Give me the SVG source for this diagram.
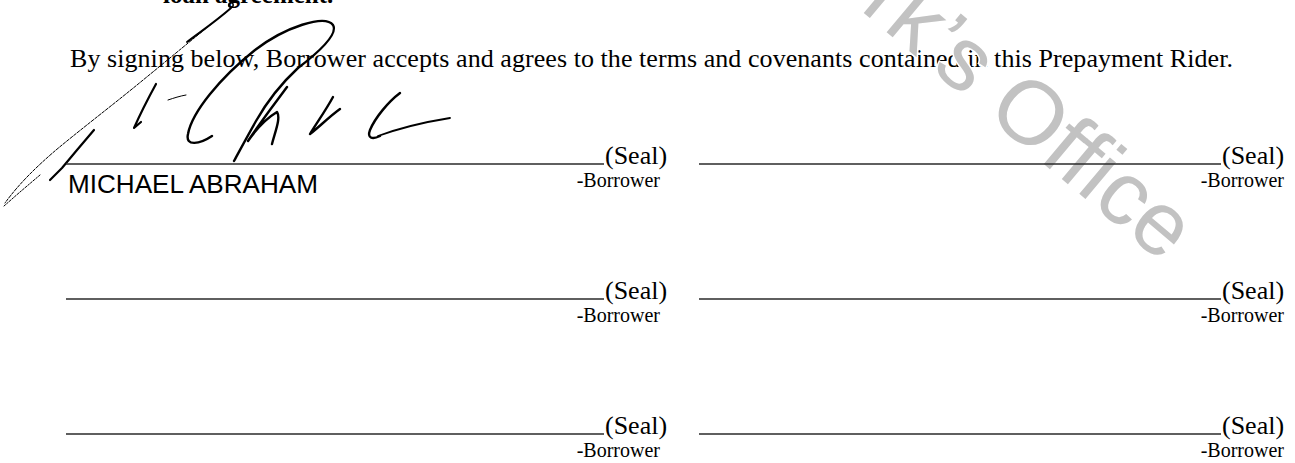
<svg xmlns="http://www.w3.org/2000/svg" width="1295" height="463" viewBox="0 0 1295 463">
<style>
.serif{font-family:"Liberation Serif","Times New Roman",serif;fill:#000}
.seal{font-size:26px}
.borr{font-size:20px}
.rule{stroke:#2a2a2a;stroke-width:1.4;fill:none}
.sig{fill:none;stroke:#000;stroke-linecap:round;stroke-linejoin:round}
.wm{font-family:"Liberation Sans",Arial,sans-serif;font-size:90px;fill:#c2c2c2;stroke:#fff;stroke-width:3;paint-order:stroke}
</style>
<rect width="1295" height="463" fill="#fff"/>
<g id="header-text">
<text class="serif" x="163" y="3" font-size="25" font-weight="bold">loan agreement.</text>
<text class="serif" x="70" y="67" font-size="26" textLength="1163" lengthAdjust="spacing">By signing below, Borrower accepts and agrees to the terms and covenants contained in this Prepayment Rider.</text>
</g>
<g id="signature">
<path class="sig" stroke-width="1" stroke-dasharray="3 1.5" d="M230,9 C200,33 170,58 137,85 C110,107 80,130 56,150 C35,168 18,185 5,203"/>
<path class="sig" stroke-width="2" d="M231,8 C215,22 200,32 187,42"/>
<circle cx="231" cy="5" r="2.2" fill="none" stroke="#000" stroke-width="1.5"/>
<path class="sig" stroke-width="2.2" d="M94,130 L77,150 L62,168 L50,180"/>
<path class="sig" stroke-width="1" stroke-dasharray="2 1.5" d="M40,175 L20,192 L4,206"/>
<path class="sig" stroke-width="2.2" d="M156,84 C150,95 142,110 134,128 L141,122"/>
<path class="sig" stroke-width="1" d="M168,100 C174,98 180,96 186,95"/>
<path class="sig" stroke-width="2.4" d="M212,136 C200,144 185,147 188,134 C192,112 220,78 255,50 C285,27 325,14 333,25 C339,35 315,55 298,68 C285,80 268,100 256,121 C248,135 240,150 234,161"/>
<path class="sig" stroke-width="2.4" d="M287,87 C276,102 262,120 248,141 C257,128 267,118 277,112 C281,118 275,132 272,144"/>
<path class="sig" stroke-width="2.4" d="M333,97 C326,110 316,124 310,134 C318,128 330,116 340,109"/>
<path class="sig" stroke-width="2.4" d="M400,93 C388,102 375,118 370,130 C367,138 372,140 380,136"/>
<path class="sig" stroke-width="1.8" d="M378,136 C400,128 425,122 450,118"/>
</g>
<g id="watermark">
<text class="wm" transform="translate(859,9) rotate(40)">rk’s Office</text>
</g>
<g id="connectors">
<line class="rule" x1="66" y1="164" x2="604" y2="164"/>
<line class="rule" x1="699" y1="164" x2="1221" y2="164"/>
<line class="rule" x1="66" y1="299" x2="604" y2="299"/>
<line class="rule" x1="699" y1="299" x2="1221" y2="299"/>
<line class="rule" x1="66" y1="434" x2="604" y2="434"/>
<line class="rule" x1="699" y1="434" x2="1221" y2="434"/>
</g>
<g id="borrower-1">
<text x="68" y="193" font-family="'Liberation Sans',Arial,sans-serif" font-size="26" textLength="250" lengthAdjust="spacingAndGlyphs">MICHAEL ABRAHAM</text>
<text class="serif seal" x="605" y="164">(Seal)</text>
<text class="serif borr" x="660" y="187" text-anchor="end">-Borrower</text>
</g>
<g id="borrower-2">
<text class="serif seal" x="1222" y="164">(Seal)</text>
<text class="serif borr" x="1284" y="187" text-anchor="end">-Borrower</text>
</g>
<g id="borrower-3">
<text class="serif seal" x="605" y="299">(Seal)</text>
<text class="serif borr" x="660" y="322" text-anchor="end">-Borrower</text>
</g>
<g id="borrower-4">
<text class="serif seal" x="1222" y="299">(Seal)</text>
<text class="serif borr" x="1284" y="322" text-anchor="end">-Borrower</text>
</g>
<g id="borrower-5">
<text class="serif seal" x="605" y="434">(Seal)</text>
<text class="serif borr" x="660" y="457" text-anchor="end">-Borrower</text>
</g>
<g id="borrower-6">
<text class="serif seal" x="1222" y="434">(Seal)</text>
<text class="serif borr" x="1284" y="457" text-anchor="end">-Borrower</text>
</g>
</svg>
